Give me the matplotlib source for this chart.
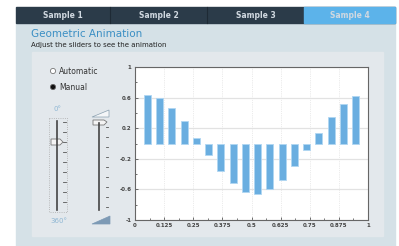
import matplotlib.pyplot as plt
from matplotlib.patches import Rectangle, Polygon, Circle

# data
tabs = ["Sample 1", "Sample 2", "Sample 3", "Sample 4"]
bar_x = [1/19, 2/19, 3/19, 4/19, 5/19, 6/19, 7/19, 8/19, 9/19,
         10/19, 11/19, 12/19, 13/19, 14/19, 15/19, 16/19, 17/19, 18/19]
bar_h = [0.64, 0.60, 0.47, 0.29, 0.07, -0.15, -0.36, -0.52, -0.63,
         -0.66, -0.60, -0.48, -0.30, -0.09, 0.14, 0.35, 0.52, 0.62]
x_ticks = [0, 0.125, 0.25, 0.375, 0.5, 0.625, 0.75, 0.875, 1]
x_labels = ["0", "0.125", "0.25", "0.375", "0.5", "0.625", "0.75", "0.875", "1"]
y_ticks = [-1, -0.6, -0.2, 0.2, 0.6, 1]
y_labels = ["-1", "-0.6", "-0.2", "0.2", "0.6", "1"]

W, H = 399, 246
fig = plt.figure(figsize=(W / 100, H / 100), dpi=100)

# background layer in pixel coords
bg = fig.add_axes([0, 0, 1, 1])
bg.set_xlim(0, W)
bg.set_ylim(H, 0)
bg.axis("off")

bg.add_patch(Rectangle((16, 23), 379, 223, color="#d5e1e7"))
bg.add_patch(Rectangle((32, 52), 351, 184, color="#e3e8ec"))

# tab bar
bg.add_patch(Rectangle((16, 7), 379, 16, color="#2b3b49"))
tab_edges = [16, 110, 207, 304, 395]
for i, t in enumerate(tabs):
    x0, x1 = tab_edges[i], tab_edges[i + 1]
    if i == 3:
        bg.add_patch(Rectangle((x0, 7), x1 - x0, 16, color="#5cb3ea"))
    elif i > 0:
        bg.plot([x0, x0], [7, 23], color="#1e2a35", lw=0.8)
    bg.text((x0 + x1) / 2, 15.5, t, color="#d0d8e0", fontsize=5.5,
            fontweight="bold", ha="center", va="center")

bg.text(31, 34, "Geometric Animation", color="#3b8fc4", fontsize=7.5,
        ha="left", va="center")
bg.text(31, 44.5, "Adjust the sliders to see the animation", color="#222222",
        fontsize=5, ha="left", va="center")

# radio buttons
bg.add_patch(Circle((53, 71), 2.6, facecolor="white", edgecolor="#777777", lw=0.6))
bg.text(59, 71, "Automatic", fontsize=5.5, color="#333333", va="center")
bg.add_patch(Circle((53, 87), 2.6, facecolor="#111111", edgecolor="#666666", lw=0.6))
bg.text(59, 87, "Manual", fontsize=5.5, color="#333333", va="center")

# slider 1 (angle)
bg.text(58, 109, "0°", fontsize=5, color="#8fb7d4", ha="center", va="center")
bg.add_patch(Rectangle((49, 118), 18, 94, fill=False, edgecolor="#aaaaaa",
                       lw=0.6, ls=":"))
bg.plot([57, 57], [121, 210], color="#444444", lw=1.2)
for yy in range(122, 212, 10):
    bg.plot([63, 66], [yy, yy], color="#555555", lw=0.6)
bg.add_patch(Polygon([[51, 139], [60, 139], [63, 142], [60, 145], [51, 145]],
                     facecolor="#f4f4f4", edgecolor="#777777", lw=0.6))
bg.text(59, 221, "360°", fontsize=5, color="#8fb7d4", ha="center", va="center")

# slider 2 (size)
bg.add_patch(Polygon([[92, 117], [109, 110], [109, 117]],
                     facecolor="#f4f6f8", edgecolor="#8aa0b0", lw=0.5))
bg.plot([99, 99], [123, 210], color="#444444", lw=1.2)
for yy in range(127, 212, 10):
    bg.plot([106, 108], [yy, yy], color="#555555", lw=0.6)
bg.add_patch(Polygon([[93, 120], [104, 120], [107, 122], [104, 125], [93, 125]],
                     facecolor="#f4f4f4", edgecolor="#777777", lw=0.6))
bg.add_patch(Polygon([[92, 224], [110, 216], [110, 224]],
                     facecolor="#7d9ab5", edgecolor="#7d9ab5", lw=0.5))

# chart area
ax = fig.add_axes([135 / W, 1 - 220 / H, 233 / W, 153 / H])
ax.set_facecolor("white")
ax.bar(bar_x, bar_h, width=0.03, color="#6aaee0", edgecolor="#b0d6f2", lw=0.6,
       zorder=3)
ax.set_xlim(0, 1)
ax.set_ylim(-1, 1)
ax.set_xticks(x_ticks)
ax.set_xticklabels(x_labels, fontweight="bold")
ax.set_yticks(y_ticks)
ax.set_yticklabels(y_labels, fontweight="bold")
ax.set_xticks([0.0625 + 0.125 * i for i in range(8)], minor=True)
ax.set_yticks([-0.8, -0.4, 0, 0.4, 0.8], minor=True)
ax.tick_params(which="both", direction="in", length=2.5, width=0.6,
               color="#555555", labelsize=4, labelcolor="#444444", pad=2.5)
ax.tick_params(which="minor", length=1.5)
ax.grid(axis="y", which="major", color="#e2e2e2", lw=0.9, zorder=0)
ax.grid(axis="x", which="major", color="#d8d8d8", lw=0.5, ls=":", zorder=0)
for s in ax.spines.values():
    s.set_color("#666666")
    s.set_linewidth(0.8)

fig.savefig("out.png", dpi=100)
